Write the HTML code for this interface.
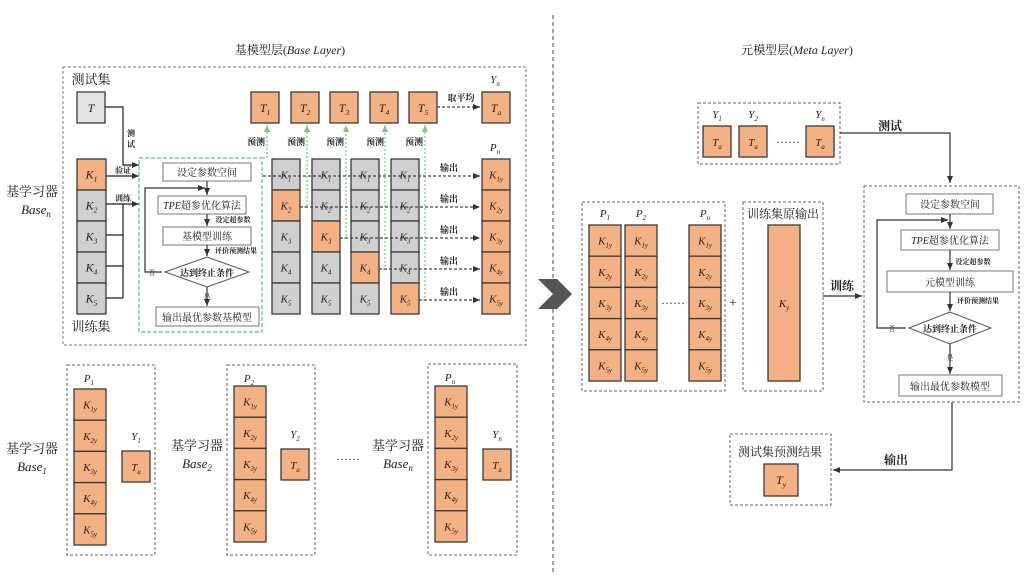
<!DOCTYPE html>
<html><head><meta charset="utf-8">
<style>
html,body{margin:0;padding:0;background:#fff;width:1024px;height:576px;overflow:hidden}
svg{display:block}
text{font-family:"Liberation Serif","Noto Serif CJK SC",serif;fill:#222}
.cn{font-family:"Liberation Serif","Noto Serif CJK SC",serif}
.it{font-style:italic}
</style></head>
<body>
<svg id="s" width="1024" height="576" viewBox="0 0 1024 576" xmlns="http://www.w3.org/2000/svg">
<defs>
<marker id="a" markerWidth="8" markerHeight="8" refX="7" refY="4" orient="auto" markerUnits="userSpaceOnUse"><path d="M0,1 L7,4 L0,7 z" fill="#333"/></marker>
<marker id="g" markerWidth="8" markerHeight="8" refX="7" refY="4" orient="auto" markerUnits="userSpaceOnUse"><path d="M0,1 L7,4 L0,7 z" fill="#7cc47c"/></marker>
</defs>
</svg>
<script>
var s=document.getElementById('s'),h='';
var OR='#F4B183',GR='#D0D0D0',BD='#3a3a3a',DS='#666677';
function R(x,y,w,hh,f,st,dash,sw){h+='<rect x="'+x+'" y="'+y+'" width="'+w+'" height="'+hh+'" fill="'+(f||'none')+'" stroke="'+(st||BD)+'" stroke-width="'+(sw||1)+'"'+(dash?' stroke-dasharray="'+dash+'"':'')+'/>';}
function T(x,y,t,sz,extra){h+='<text x="'+x+'" y="'+y+'" font-size="'+sz+'" text-anchor="middle" '+(extra||'')+'>'+t+'</text>';}
function Ts(x,y,m,sub,sz){h+='<text x="'+x+'" y="'+y+'" font-size="'+sz+'" text-anchor="middle" class="it">'+m+'<tspan font-size="'+(sz*0.62)+'" dy="3">'+sub+'</tspan></text>';}
function L(p,col,dash,mk,sw){h+='<polyline points="'+p+'" fill="none" stroke="'+(col||'#333')+'" stroke-width="'+(sw||1.2)+'"'+(dash?' stroke-dasharray="'+dash+'"':'')+(mk?' marker-end="url(#'+mk+')"':'')+'/>';}
function cell(x,y,w,hh,f,m,sub,sz){R(x,y,w,hh,f,BD,null,1.3);Ts(x+w/2,y+hh/2+4,m,sub,sz||11);}
function colY(x,y,w,ch){for(var i=0;i<5;i++)cell(x,y+i*ch,w,ch,OR,'K',(i+1)+'y',11);}

// divider
L('553,15 553,572','#444','4,3',null,1);
T(290,54,'基模型层(<tspan class="it">Base Layer</tspan>)',12);
T(797,54,'元模型层(<tspan class="it">Meta Layer</tspan>)',12);

// top-left box
R(63,67,463,278,'none','#777','3,2');
T(91,84,'测试集',13);T(91,331,'训练集',13);
R(77,92,28,31,'#e3e3e3',BD,null,1.3);T(91,112,'<tspan class="it">T</tspan>',12);
T(32,196,'基学习器',13);
h+='<text x="36" y="214" font-size="13" text-anchor="middle" class="it">Base<tspan font-size="9" dy="3">n</tspan></text>';
for(var i=0;i<5;i++)cell(77,159+i*31,29,31,i==0?OR:GR,'K',(i+1),12);
L('105,107 123,107 123,165 139,165','#222',null,'a');
T(131,136,'测',8,'font-weight="bold"');T(131,147,'试',8,'font-weight="bold"');
L('106,176 139,176','#222',null,'a');T(123,173,'验证',8,'font-weight="bold"');
L('106,204 139,204','#222',null,'a');T(123,201,'训练',8,'font-weight="bold"');
L('123,204 123,298','#222');L('106,235 123,235','#222');L('106,266 123,266','#222');L('106,298 123,298','#222');

// green box
R(139,158,123,174,'none','#66bb88','4,2',1.2);
R(163,163,88,18,'#fff','#777');T(207,176,'设定参数空间',10);
R(158,196,88,18,'#fff','#777');T(202,209,'<tspan class="it">TPE</tspan>超参优化算法',10);
R(163,227,88,18,'#fff','#777');T(207,240,'基模型训练',10);
h+='<polygon points="165,272 207,257 249,272 207,287" fill="#fff" stroke="#555"/>';T(207,276,'达到终止条件',9,'font-weight="bold"');
R(156,307,103,19,'#fff','#777');T(207,321,'输出最优参数基模型',10);
L('207,181 207,195','#333',null,'a');L('207,214 207,226','#333',null,'a');L('207,245 207,256','#333',null,'a');L('207,287 207,306','#333',null,'a');
L('162,272 145,272 145,188 205,188','#333',null,'a');
T(152,275,'否',7);T(207,299,'是',7);T(233,222,'设定超参数',7,'font-weight="bold"');T(236,253,'评价预测结果',7,'font-weight="bold"');

// folds
var cx=[272,312,351,391];
for(var c=0;c<4;c++)for(var i=0;i<5;i++)cell(cx[c],159+i*31,28,31,(i==c+1)?OR:GR,'K',(i+1),11);
var tx=[251,291,330,370,409];
for(var c=0;c<5;c++){R(tx[c],92,28,31,OR,BD,null,1.3);Ts(tx[c]+14,112,'T',(c+1),12);T(tx[c]+5,145,'预测',9,'font-weight="bold"');}
R(482,92,28,31,OR,BD,null,1.3);Ts(496,112,'T','a',12);Ts(495,83,'Y','n',11);Ts(495,151,'P','n',11);
L('437,107 480,107','#444','3,2','a');T(461,101,'取平均',9,'font-weight="bold"');
colY(482,159,28,31);
// green preds
L('263,158 267,158 267,125','#7cc47c','2,2','g');
L('300,207 307,207 307,125','#7cc47c','2,2','g');
L('340,238 346,238 346,125','#7cc47c','2,2','g');
L('379,269 385,269 385,125','#7cc47c','2,2','g');
L('419,300 425,300 425,125','#7cc47c','2,2','g');
var rs=[263,300,340,379,419];
for(var i=0;i<5;i++){var y=176+i*31;L(rs[i]+','+y+' 480,'+y,'#444','3,2','a');T(449,y-5,'输出',9,'font-weight="bold"');}

// bottom-left
function bl(bx,by,bw,bh,colx,coly,tax,tay,n){R(bx,by,bw,bh,'none',DS,'3,2');Ts(colx+15,by+17,'P',n,11);colY(colx,coly,32,31.2);R(tax,tay,28,31,OR,BD,null,1.3);Ts(tax+14,tay+20,'T','a',11);Ts(tax+14,tay-11,'Y',n,11);}
bl(67,365,88,190,74,389,122,451,'1');
bl(227,365,88,190,234,386,281,449,'2');
bl(428,364,89,191,435,386,483,449,'n');
function bn(x,y,n){T(x,y,'基学习器',13);h+='<text x="'+x+'" y="'+(y+18)+'" font-size="13" text-anchor="middle" class="it">Base<tspan font-size="9" dy="3">'+n+'</tspan></text>';}
bn(32,453,'1');bn(197,450,'2');bn(398,450,'n');
T(348,463,'······',12);

// big arrow
h+='<polygon points="538,279 557,279 572,294 557,309 538,309 553,294" fill="#555"/>';

// right top Y box
R(698,103,142,61,'none',DS,'3,2');
[[703,'1'],[739,'2'],[806,'n']].forEach(function(p){R(p[0],126,28,31,OR,BD,null,1.3);Ts(p[0]+14,146,'T','a',11);Ts(p[0]+14,118,'Y',p[1],11);});
T(788,146,'······',12);
L('840,133 950,133 950,183','#333',null,'a');T(890,130,'测试',12,'font-weight="bold"');

// P box
R(582,202,143,189,'none',DS,'3,2');
[[589,'1'],[625,'2'],[689,'n']].forEach(function(p){colY(p[0],225,32,31.2);Ts(p[0]+16,217,'P',p[1],11);});
T(673,307,'······',12);T(733,307,'+',14);
R(743,202,80,189,'none',DS,'3,2');T(783,218,'训练集原输出',12);
R(768,225,32,156,OR,BD,null,1.3);Ts(784,307,'K','y',11);
L('823,296 862,296','#333',null,'a');T(842,290,'训练',12,'font-weight="bold"');

// meta box
R(864,186,155,216,'none',DS,'3,2');
R(906,194,87,20,'#fff','#777');T(950,208,'设定参数空间',10);
R(901,230,98,20,'#fff','#777');T(950,244,'<tspan class="it">TPE</tspan>超参优化算法',10);
R(887,271,126,21,'#fff','#777');T(950,286,'元模型训练',10);
h+='<polygon points="909,328 950,312 991,328 950,344" fill="#fff" stroke="#555"/>';T(950,332,'达到终止条件',9,'font-weight="bold"');
R(899,375,103,21,'#fff','#777');T(950,390,'输出最优参数模型',10);
L('950,214 950,229','#333',null,'a');L('950,250 950,270','#333',null,'a');L('950,292 950,311','#333',null,'a');L('950,344 950,374','#333',null,'a');
L('906,328 877,328 877,220 948,220','#333',null,'a');
T(892,331,'否',7);T(950,360,'是',7);T(973,264,'设定超参数',7,'font-weight="bold"');T(978,303,'评价预测结果',7,'font-weight="bold"');

// output
L('952,402 952,470 833,470','#333',null,'a');T(896,464,'输出',12,'font-weight="bold"');
R(730,434,101,71,'none',DS,'3,2');T(780,456,'测试集预测结果',12);
R(764,464,34,32,OR,BD,null,1.3);Ts(781,484,'T','y',12);

s.innerHTML+=h;
</script>
</body></html>
